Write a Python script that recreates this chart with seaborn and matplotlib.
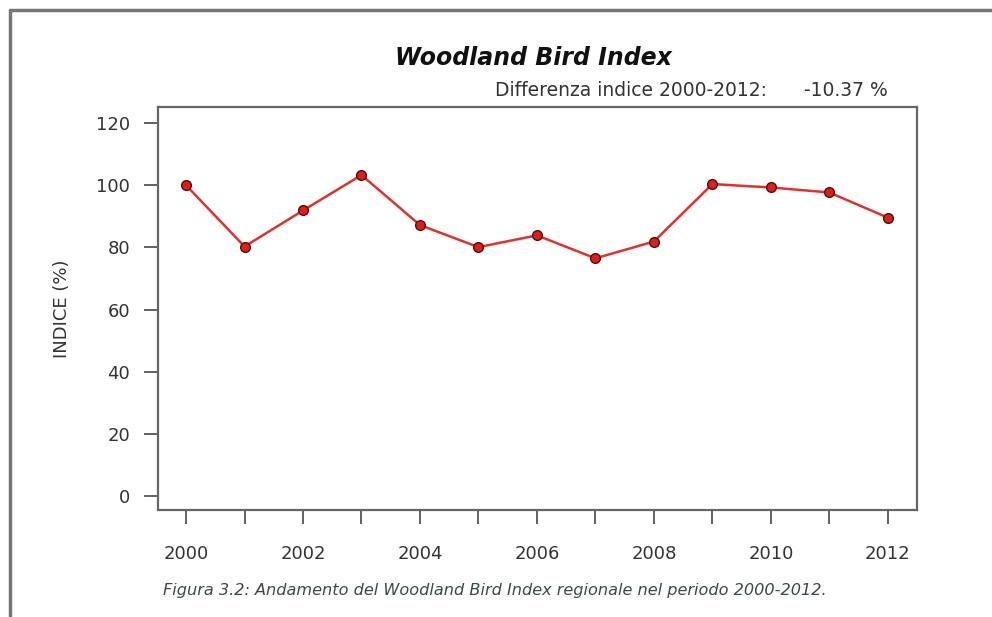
import numpy as np
import matplotlib.pyplot as plt
from matplotlib.lines import Line2D
import pandas as pd
import seaborn as sns

# data
years = [2000, 2001, 2002, 2003, 2004, 2005, 2006, 2007, 2008, 2009, 2010, 2011, 2012]
index_values = [100.0, 80.3, 91.9, 103.3, 87.2, 80.1, 83.9, 76.5, 81.9, 100.4, 99.3, 97.7, 89.6]
y_ticks = [0, 20, 40, 60, 80, 100, 120]

title = 'Woodland Bird Index'
diff_label = 'Differenza indice 2000-2012:'
diff_value = '-10.37 %'
y_label = 'INDICE (%)'
caption = 'Figura 3.2: Andamento del Woodland Bird Index regionale nel periodo 2000-2012.'

df = pd.DataFrame({'year': years, 'index': index_values})

sns.set_style('white')
plt.rcParams['font.family'] = ['DejaVu Sans']

W, H = 992, 617
fig = plt.figure(figsize=(W / 100, H / 100), dpi=100)
ax = fig.add_axes([158 / W, 1 - 510 / H, (917 - 158) / W, (510 - 107) / H])

sns.lineplot(data=df, x='year', y='index', ax=ax, color='#e0312f', linewidth=1.8,
             marker='o', markersize=7, markerfacecolor='#d8201c',
             markeredgecolor='#5a0a0a', markeredgewidth=1.0)

ax.set_xlim(1999.52, 2012.5)
ax.set_ylim(-4.5, 125.2)
ax.set_yticks(y_ticks)
ax.set_xticks(years, labels=[str(y) if y % 2 == 0 else '' for y in years])
ax.tick_params(axis='both', which='major', direction='out', length=10, width=1.3,
               color='#555555', labelcolor='#333333', labelsize=13,
               bottom=True, left=True)
ax.tick_params(axis='x', pad=15)
ax.tick_params(axis='y', pad=10)
ax.set_xlabel('')
ax.set_ylabel(y_label, fontsize=13, color='#333333', labelpad=18)
for side in ['left', 'right', 'top', 'bottom']:
    ax.spines[side].set_visible(True)
    ax.spines[side].set_color('#666666')
    ax.spines[side].set_linewidth(1.6)

fig.text(533 / W, 1 - 58 / H, title, ha='center', va='center', fontsize=17,
         fontweight='bold', fontstyle='italic', color='#111111')
fig.text(767 / W, 1 - 90 / H, diff_label, ha='right', va='center', fontsize=13.5, color='#333333')
fig.text(888 / W, 1 - 90 / H, diff_value, ha='right', va='center', fontsize=13.5, color='#333333')
fig.text(163 / W, 1 - 590 / H, caption, ha='left', va='center', fontsize=11.6,
         fontstyle='italic', color='#3d4a44')

# outer page frame
fig.add_artist(Line2D([10 / W, 10 / W], [0, 1 - 10 / H], transform=fig.transFigure,
                      color='#777777', linewidth=2.5))
fig.add_artist(Line2D([10 / W, 1], [1 - 10 / H, 1 - 10 / H], transform=fig.transFigure,
                      color='#777777', linewidth=2.5))

fig.savefig('out.png', dpi=100)
